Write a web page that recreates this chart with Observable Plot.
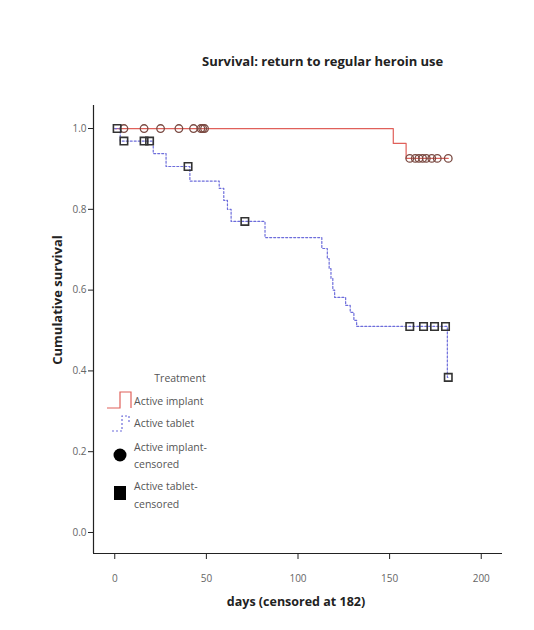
<!DOCTYPE html>
<html>
<head>
<meta charset="utf-8">
<script src="https://cdn.jsdelivr.net/npm/d3@7"></script>
<script src="https://cdn.jsdelivr.net/npm/@observablehq/plot@0.6"></script>
<style>
  body { margin: 0; background: #fff; }
  #title { position: relative; width: 534px; height: 75px; }
  #title span { position: absolute; left: 202px; top: 52px; font: bold 13px "Open Sans", sans-serif; color: #222; white-space: nowrap; }
</style>
</head>
<body>
<div id="title"><span>Survival: return to regular heroin use</span></div>
<div id="chart"></div>
<script>
// ---- data ----
const implantTime = [0, 152, 159, 182];
const implantSurv = [1.0, 0.963, 0.926, 0.926];

const tabletTime = [0, 3, 21, 28, 41, 57, 59.5, 61.5, 63.5, 82, 113, 116, 117, 118, 119, 120, 126, 128.5, 130.5, 132, 181.5, 182];
const tabletSurv = [1.0, 0.969, 0.938, 0.906, 0.870, 0.852, 0.822, 0.800, 0.770, 0.730, 0.703, 0.678, 0.653, 0.629, 0.600, 0.582, 0.562, 0.545, 0.525, 0.510, 0.384, 0.384];

const implantCensTime = [5, 16, 25, 35, 43, 47, 48, 49, 161, 164, 166, 168, 170, 173, 176, 182];
const implantCensSurv = [1, 1, 1, 1, 1, 1, 1, 1, 0.926, 0.926, 0.926, 0.926, 0.926, 0.926, 0.926, 0.926];

const tabletCensTime = [1.3, 5, 16, 19, 40, 71, 161, 168.5, 174.5, 180.5, 182];
const tabletCensSurv = [1.0, 0.969, 0.969, 0.969, 0.906, 0.770, 0.510, 0.510, 0.510, 0.510, 0.384];

const xTicks = [0, 50, 100, 150, 200];
const yTicks = [0, 0.2, 0.4, 0.6, 0.8, 1.0];
const legendTitle = "Treatment";
const legendLabels = ["Active implant", "Active tablet", ["Active implant-", "censored"], ["Active tablet-", "censored"]];
const xLabel = "days (censored at 182)";
const yLabel = "Cumulative survival";

// ---- tables ----
const zip = (t, s) => t.map((d, i) => ({t: d, s: s[i]}));
const implant = zip(implantTime, implantSurv);
const tablet = zip(tabletTime, tabletSurv);
const implantCens = zip(implantCensTime, implantCensSurv);
const tabletCens = zip(tabletCensTime, tabletCensSurv);

const xDom = [-11.6, 211.6];
const yDom = [-0.052, 1.057];
const tickFont = "'Open Sans', sans-serif";

const chart = Plot.plot({
  width: 534,
  height: 555,
  marginLeft: 93,
  marginRight: 32,
  marginTop: 30,
  marginBottom: 77,
  style: {background: "#fff", fontFamily: tickFont, fontSize: "10px", color: "#666"},
  x: {domain: xDom},
  y: {domain: yDom},
  marks: [
    Plot.axisX({ticks: xTicks, tickSize: 6, tickPadding: 15, label: null, stroke: "#222", fill: "#666", fontSize: 10}),
    Plot.axisY({ticks: yTicks, tickSize: 5, tickPadding: 2, label: null, tickFormat: d3.format(".1f"), stroke: "#222", fill: "#666", fontSize: 10}),
    Plot.ruleX([xDom[0]], {stroke: "#222", strokeWidth: 1.2}),
    Plot.ruleY([yDom[0]], {stroke: "#222", strokeWidth: 1.2}),
    Plot.line(implant, {x: "t", y: "s", curve: "step-after", stroke: "#e0605a", strokeWidth: 1.2}),
    Plot.line(tablet, {x: "t", y: "s", curve: "step-after", stroke: "#6d6ddb", strokeWidth: 1.2, strokeDasharray: "2,2"}),
    Plot.dot(implantCens, {x: "t", y: "s", r: 3.8, stroke: "#7a4a42", strokeWidth: 1.3, fill: "none"}),
    Plot.dot(tabletCens, {x: "t", y: "s", symbol: "square", r: 4.2, stroke: "#333", strokeWidth: 1.6, fill: "none"})
  ]
});
document.getElementById("chart").appendChild(chart);

// ---- axis titles & legend ----
const svg = d3.select(chart);
const off = 75; // page y -> svg y
svg.append("text")
  .attr("x", 296).attr("y", 602 - off).attr("dy", "0.35em")
  .attr("text-anchor", "middle")
  .style("font", "bold 12.5px 'Open Sans', sans-serif").attr("fill", "#222")
  .text(xLabel);
svg.append("text")
  .attr("transform", `translate(57,${300 - off}) rotate(-90)`)
  .attr("dy", "0.35em")
  .attr("text-anchor", "middle")
  .style("font", "bold 13px 'Open Sans', sans-serif").attr("fill", "#222")
  .text(yLabel);

const lg = svg.append("g").style("font", "10.5px 'Open Sans', sans-serif").attr("fill", "#555").attr("text-anchor", "start");
lg.append("text").attr("x", 180).attr("y", 378 - off).attr("dy", "0.35em").attr("text-anchor", "middle").text(legendTitle);
lg.append("path").attr("d", `M107,${408 - off}H120V${392 - off}H131V${408 - off}`).attr("fill", "none").attr("stroke", "#e0605a").attr("stroke-width", 1.2);
lg.append("text").attr("x", 134).attr("y", 401 - off).attr("dy", "0.35em").text(legendLabels[0]);
lg.append("path").attr("d", `M112,${431 - off}H122V${416 - off}H129V${424 - off}`).attr("fill", "none").attr("stroke", "#6d6ddb").attr("stroke-width", 1.2).attr("stroke-dasharray", "2,2");
lg.append("text").attr("x", 134).attr("y", 423 - off).attr("dy", "0.35em").text(legendLabels[1]);
lg.append("circle").attr("cx", 120).attr("cy", 455 - off).attr("r", 6.5).attr("fill", "#000");
lg.append("text").attr("x", 134).attr("y", 447 - off).attr("dy", "0.35em").text(legendLabels[2][0]);
lg.append("text").attr("x", 134).attr("y", 464 - off).attr("dy", "0.35em").text(legendLabels[2][1]);
lg.append("rect").attr("x", 114).attr("y", 486 - off).attr("width", 12).attr("height", 14).attr("fill", "#000");
lg.append("text").attr("x", 134).attr("y", 486 - off).attr("dy", "0.35em").text(legendLabels[3][0]);
lg.append("text").attr("x", 134).attr("y", 504 - off).attr("dy", "0.35em").text(legendLabels[3][1]);
</script>
</body>
</html>
